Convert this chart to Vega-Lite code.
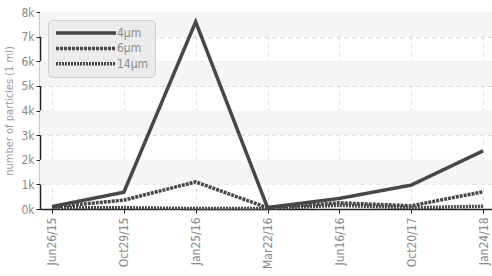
{
  "$schema": "https://vega.github.io/schema/vega-lite/v6.json",
  "autosize": "none",
  "padding": {"left": 40, "top": 12, "right": 0, "bottom": 67},
  "width": 455,
  "height": 197,
  "background": "white",
  "config": {
    "view": {"stroke": null},
    "font": "DejaVu Sans Condensed, Liberation Sans Narrow, sans-serif",
    "axis": {"labelFont": "DejaVu Sans Condensed, Liberation Sans Narrow, sans-serif", "titleFont": "DejaVu Sans Condensed, Liberation Sans Narrow, sans-serif"}
  },
  "datasets": {
    "bands": [
      {"lo": 1000, "hi": 2000},
      {"lo": 3000, "hi": 4000},
      {"lo": 5000, "hi": 6000},
      {"lo": 7000, "hi": 8000}
    ],
    "series": [
      {"date": "Jun26/15", "size": "4µm", "count": 100},
      {"date": "Oct29/15", "size": "4µm", "count": 680},
      {"date": "Jan25/16", "size": "4µm", "count": 7600},
      {"date": "Mar22/16", "size": "4µm", "count": 60},
      {"date": "Jun16/16", "size": "4µm", "count": 430},
      {"date": "Oct20/17", "size": "4µm", "count": 970},
      {"date": "Jan24/18", "size": "4µm", "count": 2360},
      {"date": "Jun26/15", "size": "6µm", "count": 80},
      {"date": "Oct29/15", "size": "6µm", "count": 360},
      {"date": "Jan25/16", "size": "6µm", "count": 1100},
      {"date": "Mar22/16", "size": "6µm", "count": 50},
      {"date": "Jun16/16", "size": "6µm", "count": 250},
      {"date": "Oct20/17", "size": "6µm", "count": 130},
      {"date": "Jan24/18", "size": "6µm", "count": 700},
      {"date": "Jun26/15", "size": "14µm", "count": 50},
      {"date": "Oct29/15", "size": "14µm", "count": 50},
      {"date": "Jan25/16", "size": "14µm", "count": 20},
      {"date": "Mar22/16", "size": "14µm", "count": 20},
      {"date": "Jun16/16", "size": "14µm", "count": 150},
      {"date": "Oct20/17", "size": "14µm", "count": 50},
      {"date": "Jan24/18", "size": "14µm", "count": 110}
    ]
  },
  "layer": [
    {
      "data": {"name": "bands"},
      "mark": {"type": "rect", "color": "#f5f5f5"},
      "encoding": {
        "x": {"value": 0},
        "x2": {"value": "width"},
        "y": {
          "field": "lo", "type": "quantitative", "scale": {"domain": [0, 8000]},
          "title": "number of particles (1 ml)",
          "axis": {
            "title": "number of particles (1 ml)", "titleColor": "#999", "titleFontWeight": "normal", "titleFontSize": 11,
            "titlePadding": 6,
            "values": [0, 1000, 2000, 3000, 4000, 5000, 6000, 7000, 8000],
            "labelExpr": "(datum.value/1000) + 'k'",
            "labelColor": "#8a8a8a", "labelFontSize": 12,
            "domainColor": "#222", "domainWidth": 1.5, "tickColor": "#222", "tickSize": 4,
            "grid": true, "gridDash": [4, 4], "gridColor": "#d8d8d8"
          }
        },
        "y2": {"field": "hi"}
      }
    },
    {
      "data": {"name": "series"},
      "mark": {"type": "line", "color": "#474747", "strokeCap": "butt"},
      "encoding": {
        "x": {
          "field": "date", "type": "ordinal",
          "sort": ["Jun26/15", "Oct29/15", "Jan25/16", "Mar22/16", "Jun16/16", "Oct20/17", "Jan24/18"],
          "scale": {"type": "point", "padding": 0.167},
          "axis": {
            "title": null, "labelAngle": -90, "labelColor": "#8a8a8a", "labelFontSize": 12,
            "domainColor": "#222", "domainWidth": 1.5, "tickColor": "#222", "tickSize": 4,
            "labelPadding": 4,
            "grid": true, "gridDash": [4, 4], "gridColor": "#d8d8d8"
          }
        },
        "y": {
          "field": "count", "type": "quantitative",
          "scale": {"domain": [0, 8000]},
          "title": "number of particles (1 ml)",
          "axis": {
            "title": "number of particles (1 ml)", "titleColor": "#999", "titleFontWeight": "normal", "titleFontSize": 11,
            "titlePadding": 6,
            "values": [0, 1000, 2000, 3000, 4000, 5000, 6000, 7000, 8000],
            "labelExpr": "(datum.value/1000) + 'k'",
            "labelColor": "#8a8a8a", "labelFontSize": 12,
            "domainColor": "#222", "domainWidth": 1.5, "tickColor": "#222", "tickSize": 4,
            "grid": true, "gridDash": [4, 4], "gridColor": "#d8d8d8"
          }
        },
        "strokeDash": {
          "field": "size", "type": "nominal",
          "scale": {"domain": ["4µm", "6µm", "14µm"], "range": [[1, 0], [3, 1], [2, 1]]},
          "legend": {
            "title": null, "orient": "none", "legendX": 8, "legendY": 8,
            "symbolType": "M-1,0H11", "symbolSize": 100, "symbolStrokeColor": "#474747",
            "labelOffset": 49,
            "labelColor": "#8a8a8a", "labelFontSize": 12,
            "fillColor": "#ebebeb", "strokeColor": "#cfcfcf", "cornerRadius": 4, "padding": 6,
            "rowPadding": 1.4
          }
        },
        "strokeWidth": {
          "field": "size", "type": "nominal",
          "scale": {"domain": ["4µm", "6µm", "14µm"], "range": [3.5, 3.5, 2]},
          "legend": {
            "title": null, "orient": "none", "legendX": 8, "legendY": 8,
            "symbolType": "M-1,0H11", "symbolSize": 100, "symbolStrokeColor": "#474747",
            "labelOffset": 49,
            "labelColor": "#8a8a8a", "labelFontSize": 12,
            "fillColor": "#ebebeb", "strokeColor": "#cfcfcf", "cornerRadius": 4, "padding": 6,
            "rowPadding": 1.4
          }
        }
      }
    }
  ]
}
